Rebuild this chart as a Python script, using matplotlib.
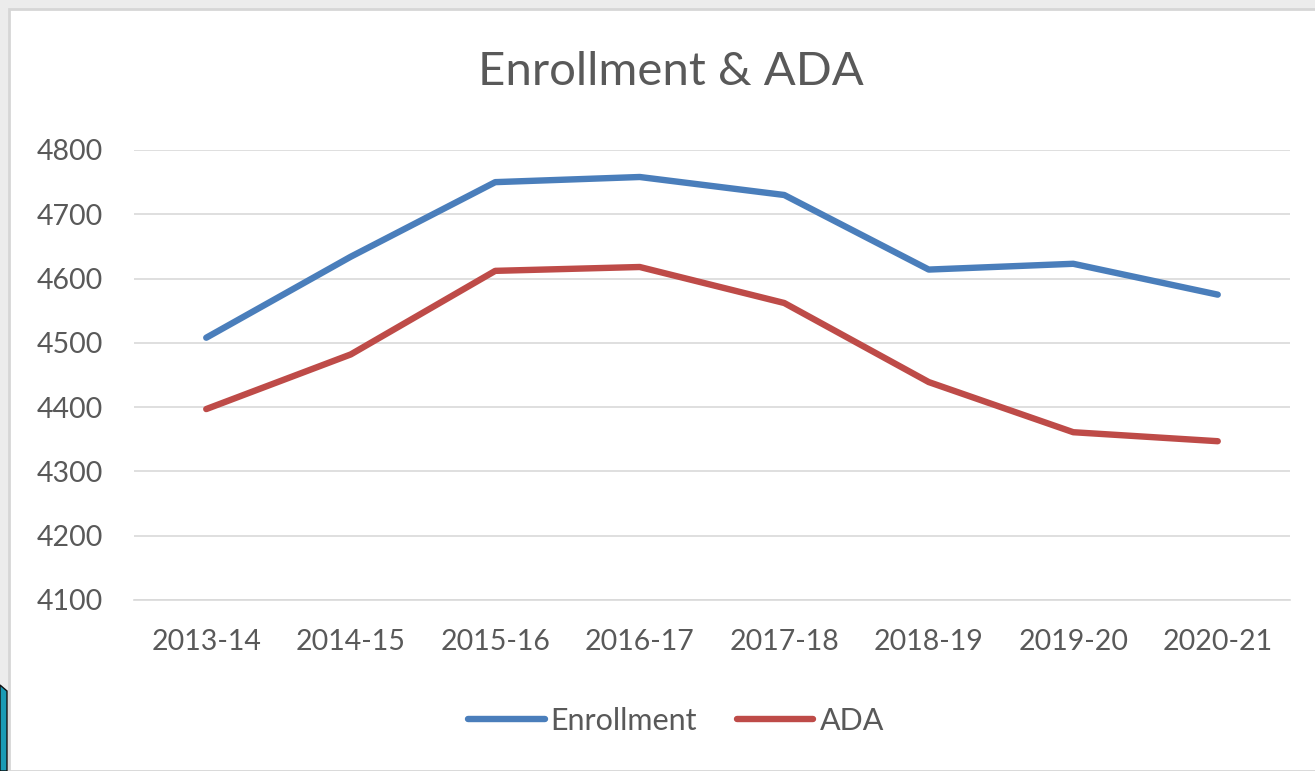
import numpy as np
import matplotlib.pyplot as plt
from matplotlib.patches import Rectangle, Polygon

# data
years = ['2013-14', '2014-15', '2015-16', '2016-17', '2017-18', '2018-19', '2019-20', '2020-21']
enrollment = [4508, 4634, 4750, 4758, 4730, 4614, 4623, 4575]
ada = [4397, 4482, 4612, 4618, 4562, 4439, 4361, 4347]
y_ticks = [4100, 4200, 4300, 4400, 4500, 4600, 4700, 4800]

plt.rcParams['font.family'] = ['Lato', 'DejaVu Sans']
txt_col = '#595959'

fig = plt.figure(figsize=(13.15, 7.71), dpi=100)
fig.patch.set_facecolor('#ececec')

# white chart area with a thin grey frame
W, H = 1315, 771
fig.patches.append(Rectangle((9 / W, 0), 1, 1 - 9 / H, transform=fig.transFigure,
                             facecolor='white', edgecolor='#d6d6d6', linewidth=2, zorder=-2))
# bit of the slide decoration showing at bottom left
fig.patches.append(Polygon([(0, 0), (7 / W, 0), (7 / W, 80 / H), (0, 86 / H)], closed=True,
                           transform=fig.transFigure, facecolor='#1a9bb5',
                           edgecolor='#111111', linewidth=1, zorder=-1))

ax = fig.add_axes([134 / W, 171 / H, 1156 / W, 450 / H])
ax.set_zorder(2)
ax.set_facecolor('none')
x = np.arange(len(years))
ax.plot(x, enrollment, color='#4a7ebb', lw=4.6, solid_capstyle='round',
        solid_joinstyle='round', label='Enrollment', zorder=3)
ax.plot(x, ada, color='#be4b48', lw=4.6, solid_capstyle='round',
        solid_joinstyle='round', label='ADA', zorder=3)

ax.set_xlim(-0.5, len(years) - 0.5)
ax.set_ylim(4100, 4800)
ax.set_yticks(y_ticks)
ax.set_xticks(x)
ax.set_xticklabels(years)
ax.grid(axis='y', color='#d9d9d9', lw=1.2)
ax.set_axisbelow(True)
for s in ['top', 'right', 'left']:
    ax.spines[s].set_visible(False)
ax.spines['bottom'].set_color('#d9d9d9')
ax.spines['bottom'].set_linewidth(1.2)
ax.tick_params(length=0, labelsize=20.5, colors=txt_col)
ax.tick_params(axis='x', pad=21)
ax.tick_params(axis='y', pad=22)

fig.text(671 / W, 1 - 72 / H, 'Enrollment & ADA', ha='center', va='center',
         fontsize=34, color=txt_col)

leg = fig.legend(loc='center', bbox_to_anchor=(676 / W, 1 - 721 / H), ncol=2,
                 frameon=False, fontsize=22, handlelength=2.5, handletextpad=0.2,
                 columnspacing=1.3, labelcolor=txt_col)

fig.savefig('out.png', dpi=100, facecolor=fig.get_facecolor())
